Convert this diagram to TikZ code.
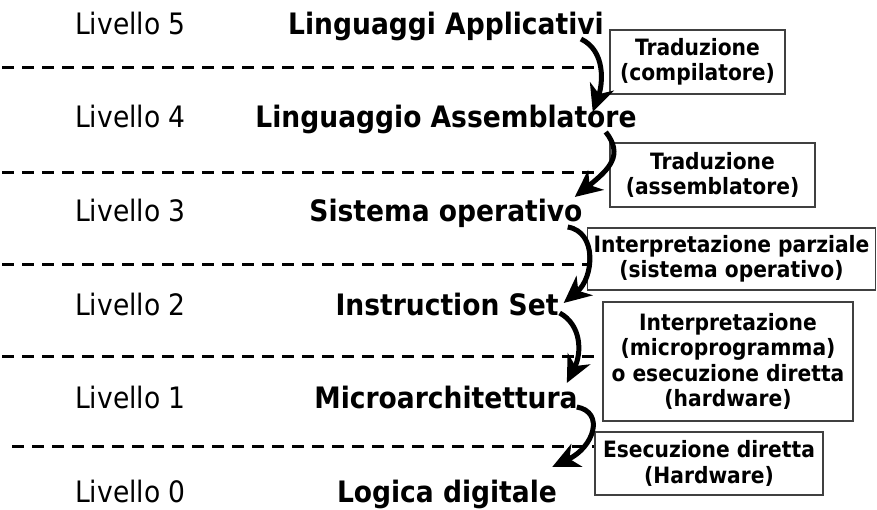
\documentclass[tikz,border=0pt]{standalone}
\usepackage{fontspec}
\setmainfont{DejaVu Sans Condensed}
\usetikzlibrary{arrows.meta}

\begin{document}
\begin{tikzpicture}[x=1pt,y=-1pt,
  level/.style={anchor=base west,inner sep=0pt,font=\fontsize{29.5}{35}\selectfont},
  layer/.style={anchor=base,inner sep=0pt,font=\fontsize{29.5}{35}\selectfont\bfseries},
  sep/.style={line width=3pt,dash pattern=on 12pt off 8pt},
  note/.style={draw=black!75,line width=1.2pt,inner sep=0pt,align=center,font=\fontsize{22.5}{25.5}\selectfont\bfseries},
  trans/.style={line width=5pt,-{Stealth[length=27pt,width=25pt,inset=8pt]}}]

  \useasboundingbox (0,0) rectangle (877,510);

  % Level numbers
  \node[level] (lv5) at (75,35) {Livello 5};
  \node[level] (lv4) at (75,128) {Livello 4};
  \node[level] (lv3) at (75,222) {Livello 3};
  \node[level] (lv2) at (75,315) {Livello 2};
  \node[level] (lv1) at (75,408) {Livello 1};
  \node[level] (lv0) at (75,502) {Livello 0};

  % Level names
  \node[layer] (app) at (446,35) {Linguaggi Applicativi};
  \node[layer] (asm) at (446,128) {Linguaggio Assemblatore};
  \node[layer] (os) at (446,222) {Sistema operativo};
  \node[layer] (isa) at (447,315) {Instruction Set};
  \node[layer] (micro) at (446,408) {Microarchitettura};
  \node[layer] (logic) at (447,502) {Logica digitale};

  % Dashed separators
  \draw[sep] (2,68) -- (598,68);
  \draw[sep] (2,173) -- (600,173);
  \draw[sep] (2,265) -- (588,265);
  \draw[sep] (2,356) -- (603,356);
  \draw[sep] (12,446) -- (595,446);

  % Boxes next to the arrows
  \node[note,minimum width=175pt,minimum height=64pt] (trcomp) at (697.5,62) {Traduzione\\(compilatore)};
  \node[note,minimum width=205pt,minimum height=64pt] (trasm) at (712.5,175) {Traduzione\\(assemblatore)};
  \node[note,minimum width=288pt,minimum height=62pt] (intos) at (731.5,259) {Interpretazione parziale\\(sistema operativo)};
  \node[note,minimum width=250pt,minimum height=119pt] (intmicro) at (728,361.5) {Interpretazione\\(microprogramma)\\o esecuzione diretta\\(hardware)};
  \node[note,minimum width=228pt,minimum height=63pt] (exhw) at (709,463.5) {Esecuzione diretta\\(Hardware)};

  % Curved arrows between levels
  \draw[trans] ([xshift=-23pt,yshift=-4pt]app.base east) .. controls +(25,12) and +(10,-28) .. ([xshift=-44pt,yshift=16pt]asm.base east);
  \draw[trans] ([xshift=-31pt,yshift=-4pt]asm.base east) .. controls +(18,23) and +(35,-28) .. ([xshift=-8pt,yshift=25pt]os.base east);
  \draw[trans] ([xshift=-15pt,yshift=-5pt]os.base east) .. controls +(30,5) and +(30,-25) .. ([xshift=5pt,yshift=12pt]isa.base east);
  \draw[trans] ([xshift=1pt,yshift=2pt]isa.base east) .. controls +(22,12) and +(15,-30) .. ([xshift=-11pt,yshift=25pt]micro.base east);
  \draw[trans] ([xshift=-1pt,yshift=1pt]micro.base east) .. controls +(28,5) and +(42,-20) .. ([xshift=-5pt,yshift=35pt]logic.base east);

\end{tikzpicture}
\end{document}
